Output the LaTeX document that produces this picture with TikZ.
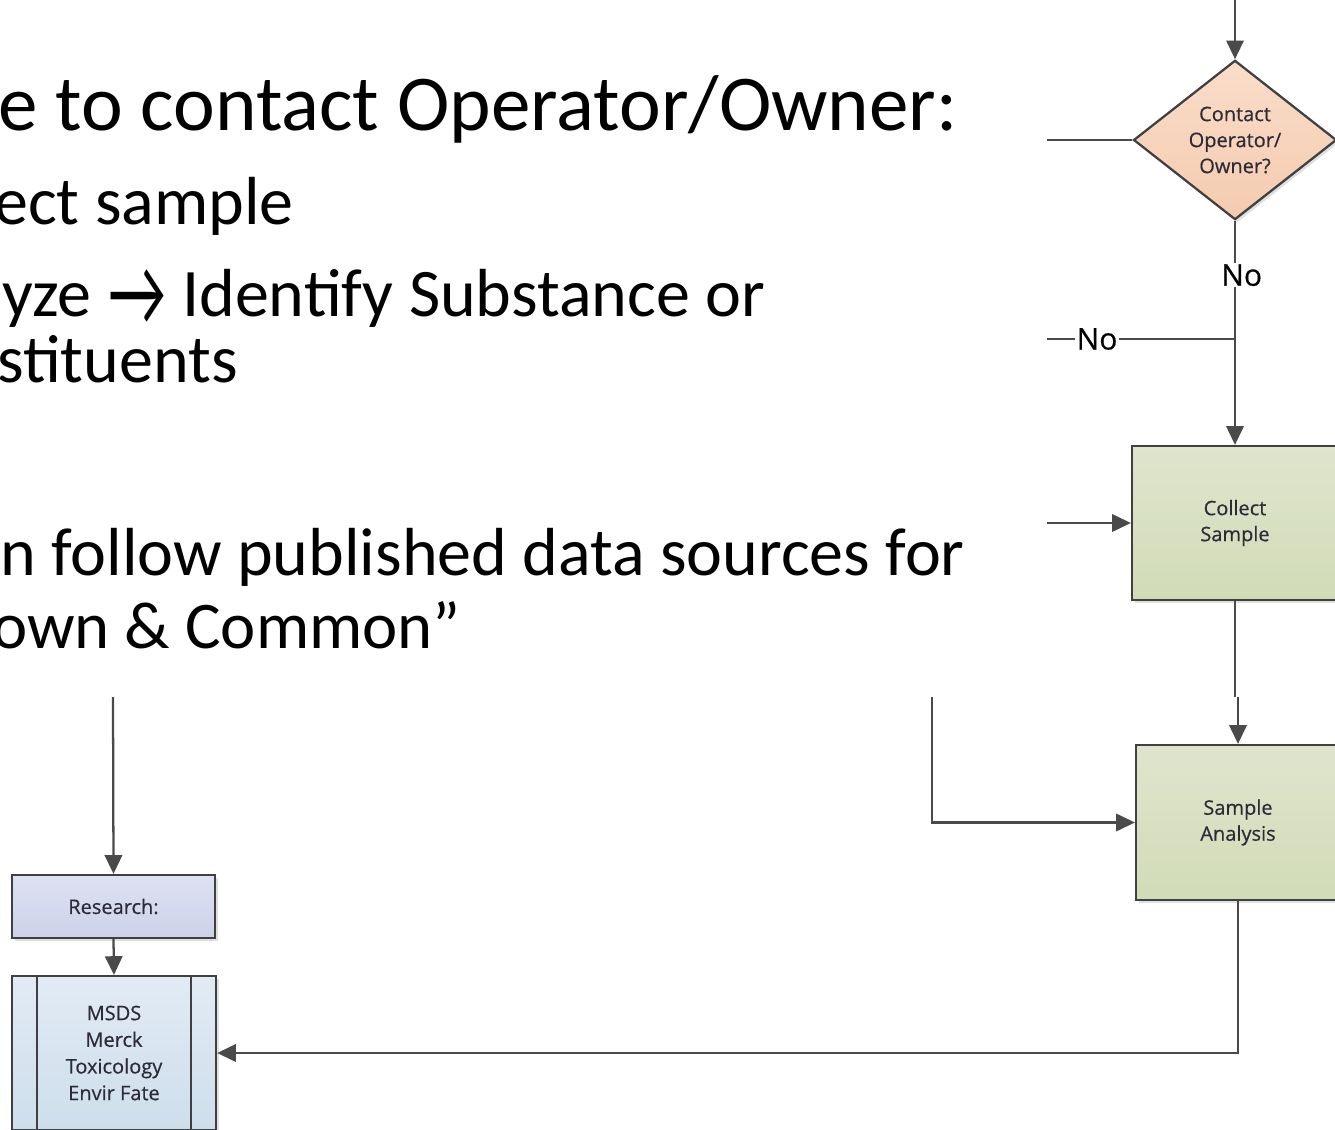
\documentclass[tikz,border=0pt]{standalone}
\usepackage{fontspec}
\setmainfont{Carlito}
\newfontfamily\boxfont[FakeBold=0.5]{Open Sans}
\newfontfamily\arrowfont{Lato}
\usetikzlibrary{arrows.meta,shapes.geometric,shadows}

\definecolor{edge}{HTML}{404040}
\definecolor{wire}{HTML}{4A4A4A}
\definecolor{boxtext}{HTML}{2C2C38}
\definecolor{peachTop}{HTML}{FADDC9}
\definecolor{peachBot}{HTML}{F4CBAF}
\definecolor{greenTop}{HTML}{DFE5CD}
\definecolor{greenBot}{HTML}{D2DBB7}
\definecolor{lavTop}{HTML}{DDE1F1}
\definecolor{lavBot}{HTML}{CCD2EA}
\definecolor{blueTop}{HTML}{E1EBF4}
\definecolor{blueBot}{HTML}{CEDEEC}

\tikzset{
  arr/.style={-{Triangle[length=14pt,width=13pt]}},
  wire/.style={draw=wire, line width=1.7pt},
  flowbox/.style={draw=edge, line width=1.7pt, inner sep=0pt, align=center,
    font=\boxfont\fontsize{15pt}{19.5pt}\selectfont, text=boxtext,
    drop shadow={shadow xshift=2pt, shadow yshift=-2pt, opacity=0.25}},
  decision/.style={flowbox, diamond, top color=peachTop, bottom color=peachBot,
    minimum width=152.25pt, minimum height=114pt},
  process/.style={flowbox, rectangle, top color=greenTop, bottom color=greenBot},
  research/.style={flowbox, rectangle, top color=lavTop, bottom color=lavBot},
  predef/.style={flowbox, rectangle, top color=blueTop, bottom color=blueBot},
  nolabel/.style={font=\boxfont\fontsize{22.5pt}{26pt}\selectfont, text=black,
    fill=white, inner sep=1pt},
  bullet/.style={anchor=base west, inner sep=0pt, text=black},
}

\begin{document}
\begin{tikzpicture}[x=0.75pt, y=-0.75pt]
\useasboundingbox (0,0) rectangle (1335,1130);
\clip (0,0) rectangle (1335,1130);
\fill[white] (0,0) rectangle (1335,1130);

% slide text
\node[bullet, font=\fontsize{59.3pt}{72pt}\selectfont] (t1) at (-2,131) {e to contact Operator/Owner:};
\node[bullet, font=\fontsize{51pt}{61pt}\selectfont] (t2) at (-6,225) {ect sample};
\node[bullet, font=\fontsize{51pt}{61pt}\selectfont] (t3) at (2,317) {yze \smash{\raisebox{-6.5pt}{\scalebox{0.88}[1.35]{\arrowfont →}}} Identify Substance or};
\node[bullet, font=\fontsize{51pt}{61pt}\selectfont] (t4) at (-3,383) {stituents};
\node[bullet, font=\fontsize{51pt}{61pt}\selectfont] (t5) at (0,575) {n follow published data sources for};
\node[bullet, font=\fontsize{50pt}{61pt}\selectfont] (t6) at (-8,648) {own \& Common”};

% flowchart shapes
\node[decision] (dec) at (1235,140) {Contact\\Operator/\\Owner?};
\node[process, minimum width=154.5pt, minimum height=115.5pt] (collect) at (1235,523) {Collect\\Sample};
\node[process, minimum width=153pt, minimum height=116.25pt] (analysis) at (1238,822.5) {Sample\\Analysis};
\node[research, minimum width=152.25pt, minimum height=47.25pt] (res) at (113.5,906.5) {Research:};
\node[predef, minimum width=153pt, minimum height=115.5pt, font=\boxfont\fontsize{15pt}{20pt}\selectfont] (msds) at (114,1053) {MSDS\\Merck\\Toxicology\\Envir Fate};
\draw[edge, line width=1.7pt] ([xshift=19.5pt]msds.north west) -- ([xshift=19.5pt]msds.south west)
  ([xshift=-19.5pt]msds.north east) -- ([xshift=-19.5pt]msds.south east);

% free ends of connectors
\coordinate (top) at (1235,0);
\coordinate (inDec) at (1047,140);
\coordinate (junc) at (1235,339);
\coordinate (inNo) at (1047,339);
\coordinate (inCollect) at (1047,523);
\coordinate (cutA) at (1235,697);
\coordinate (cutB) at (1238,697);
\coordinate (inAnalysis) at (932,697);
\coordinate (inRes) at (113,697);

% connectors
\draw[wire, arr] (top) -- (dec.north);
\draw[wire] (inDec) -- (dec.west);
\draw[wire] (dec.south) -- node[nolabel, pos=0.46, xshift=5pt] (no1) {No} (junc);
\draw[wire] (inNo) -- node[nolabel, pos=0.266] (no2) {No} (junc);
\draw[wire, arr] (junc) -- (collect.north);
\draw[wire, arr] (inCollect) -- (collect.west);
\draw[wire] (collect.south) -- (cutA);
\draw[wire, arr] (cutB) -- (analysis.north);
\draw[wire, arr] (inAnalysis) |- (analysis.west);
\draw[wire, arr] (analysis.south) |- (msds.east);
\draw[wire, arr] (inRes) -- (res.north);
\draw[wire, arr] (res.south) -- (msds.north);
\end{tikzpicture}
\end{document}
